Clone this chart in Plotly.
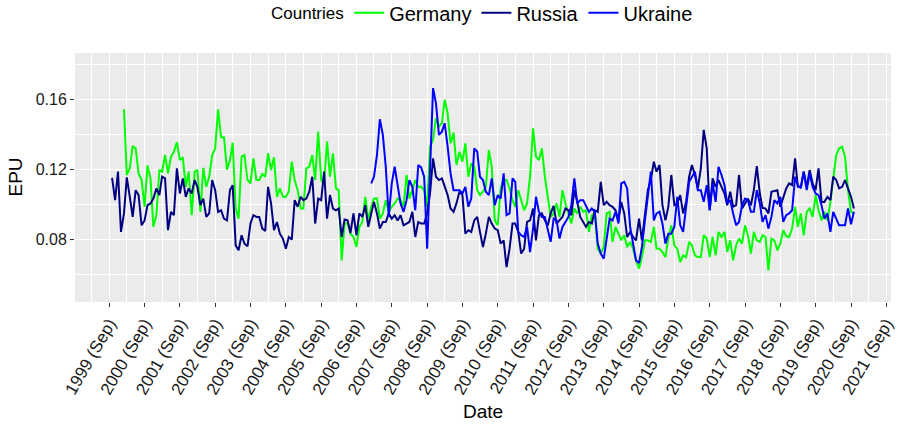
import pandas as pd
import plotly.graph_objects as go

# ---------------- data (monthly EPU) ----------------
russia_start = "1999-10-01"
russia = [
    0.1154,0.1026,0.1189,0.0844,0.095,0.1156,0.1045,0.093,0.1083,0.1055,
    0.0882,0.091,0.0997,0.1007,0.1035,0.1093,0.1055,0.116,0.115,0.0854,
    0.0959,0.094,0.1208,0.1064,0.115,0.1045,0.1093,0.1064,0.1141,0.1102,
    0.0997,0.1035,0.093,0.095,0.1141,0.1083,0.0959,0.0968,0.092,0.091,
    0.1083,0.1112,0.0767,0.0739,0.0825,0.0777,0.0762,0.0892,0.094,0.093,
    0.093,0.0863,0.085,0.1102,0.1007,0.0854,0.0901,0.0834,0.0806,0.0748,
    0.0815,0.08,0.1026,0.0988,0.1045,0.1026,0.1035,0.1074,0.116,0.0892,
    0.1035,0.1026,0.1189,0.092,0.1055,0.0978,0.0968,0.0978,0.0815,0.0915,
    0.091,0.0838,0.095,0.0825,0.095,0.093,0.0997,0.0873,0.095,0.1016,
    0.095,0.0863,0.0901,0.0901,0.095,0.092,0.094,0.091,0.094,0.0882,
    0.0892,
    0.0901,0.0959,0.0815,0.0901,0.0892,0.0892,0.095,0.1064,0.1265,0.116,
    0.1141,0.115,0.1102,0.1055,0.0978,0.0959,0.1007,0.1074,0.1055,0.0834,
    0.0854,0.0844,0.091,0.093,0.0844,0.0758,0.0834,0.093,0.0892,0.0863,
    0.0854,0.0777,0.0796,0.0643,0.0748,0.0892,0.0892,0.0844,0.072,0.0748,
    0.0901,0.091,0.0978,0.0796,0.094,0.095,0.091,0.0882,0.095,0.0993,
    0.0892,
    0.091,0.093,0.0978,0.0968,0.094,0.1083,0.1016,0.093,0.0901,0.0873,
    0.0901,0.0892,0.0968,0.0959,0.1131,0.0997,0.1016,0.0997,0.0988,0.0968,
    0.091,0.1016,0.095,0.0815,0.0844,0.0815,0.0796,0.092,0.0796,0.0959,
    0.1083,0.1141,0.1246,0.1189,0.1227,0.0997,0.091,0.0988,0.117,0.0997,
    0.1007,0.1055,0.095,0.1016,0.116,0.1227,0.117,0.1093,0.1208,0.1428,
    0.1322,
    0.0968,0.115,0.1102,0.1141,0.1102,0.1064,0.0997,0.1074,0.0988,0.0997,
    0.117,0.0978,0.1007,0.1035,0.0997,0.1083,0.1221,0.1064,0.0982,0.0978,
    0.095,0.1074,0.1078,0.1083,0.0988,0.1045,0.1093,0.1122,0.1112,0.1265,
    0.1102,0.1102,0.1189,0.1102,0.1198,0.1122,0.1083,0.1208,0.1016,0.1016,
    0.1045,0.1026,0.116,0.1141,0.1093,0.1102,0.1141,0.1093,0.1045,0.0978,
]

germany_start = "2000-02-01"
germany = [
    0.1546,0.117,0.1208,0.1336,0.1322,0.1179,0.1141,0.0988,0.1225,0.115,
    0.0873,0.094,0.12,0.1189,0.1284,0.1179,0.1275,0.1303,0.1357,0.1255,
    0.1271,0.1102,0.1189,0.094,0.1189,0.12,0.0959,0.1211,0.1102,0.116,
    0.1284,0.1322,0.1546,0.1386,0.1386,0.12,0.1255,0.1355,0.0978,0.092,
    0.1275,0.1284,0.1141,0.1122,0.1265,0.1141,
    0.1141,0.1175,0.116,0.1294,0.1198,0.1271,0.1045,0.1093,0.1045,0.1045,
    0.1074,0.1246,0.1141,0.1083,0.0978,0.0978,0.1208,0.1217,0.1284,0.1141,
    0.1418,0.1141,0.1122,0.1361,0.116,0.1294,0.1093,0.1083,0.0681,0.0892,
    0.0892,0.0834,0.0815,0.0758,0.0873,0.0901,0.1045,0.091,0.0988,0.1035,
    0.1035,0.092,0.095,0.1026,0.0959,0.0988,0.1007,0.1035,0.1026,0.0988,
    0.117,
    0.1035,0.1083,0.1141,0.1102,0.1102,0.1083,0.0988,0.1332,0.137,0.1495,
    0.1447,0.1466,0.16,0.1523,0.1351,0.1412,0.1227,0.1303,0.1246,0.1351,
    0.116,0.1236,0.1217,0.1083,0.1055,0.1074,0.1102,0.1313,0.1217,0.091,
    0.0882,0.1093,0.1141,0.1141,0.1093,0.1026,0.0988,0.1083,0.1026,0.0968,
    0.1007,0.116,0.1437,0.1275,0.1255,0.1322,0.116,0.1026,0.093,0.095,
    0.1007,
    0.093,0.1083,0.1007,0.094,0.0892,0.0978,0.095,0.0988,0.0959,0.0968,
    0.0844,0.094,0.095,0.0748,0.072,0.0758,0.095,0.0959,0.0787,0.0873,
    0.0834,0.0796,0.0825,0.0758,0.0787,0.0748,0.0681,0.0634,0.07,0.0796,
    0.0796,0.0787,0.0873,0.0748,0.0748,0.0729,0.07,0.0806,0.0882,0.0767,
    0.0748,0.0672,0.071,0.07,0.0787,0.0767,0.071,0.07,0.07,0.0825,
    0.0806,
    0.07,0.0815,0.071,0.0844,0.0815,0.0844,0.0729,0.0796,0.0681,0.0767,
    0.0806,0.0777,0.0882,0.0825,0.072,0.0844,0.0796,0.0787,0.0825,0.0815,
    0.0624,0.0806,0.0796,0.0739,0.0777,0.0854,0.0819,0.0815,0.0863,0.0988,
    0.0873,0.095,0.0825,0.0959,0.0978,0.093,0.1055,0.0968,0.091,0.0959,
    0.091,0.1016,0.1141,0.1284,0.1322,0.1332,0.1275,0.1083,0.0959,0.095,
]

ukraine_start = "2007-02-01"
ukraine = [
    0.1122,0.116,0.1284,0.1489,0.1399,0.1217,0.093,0.1122,0.1217,0.1102,
    0.1007,0.0959,0.1026,
    0.1141,0.1102,0.0968,0.1227,0.1213,0.116,0.0748,0.116,0.1667,0.1581,
    0.1399,0.1418,0.1466,0.1332,0.1179,0.1083,0.1083,0.1083,0.1064,0.1102,
    0.0988,0.1035,0.1322,0.1303,0.116,0.1141,0.1074,0.1055,0.115,0.0997,
    0.1055,0.1035,0.1179,0.094,0.095,0.115,0.1131,0.0844,0.0825,0.0815,
    0.0873,0.0729,0.0863,0.1045,0.0959,0.093,0.093,0.0863,0.0787,0.092,
    0.091,
    0.0806,0.0873,0.0901,0.093,0.0997,0.115,0.1007,0.1026,0.1026,0.0997,
    0.0959,0.0978,0.0959,0.0777,0.072,0.0691,0.0815,0.092,0.091,0.0959,
    0.0892,0.1122,0.1131,0.1093,0.0873,0.0777,0.0681,0.0666,0.0758,0.091,
    0.1055,0.1189,0.091,0.095,0.0959,0.0892,0.0777,0.0834,0.0834,0.0873,
    0.1045,0.0882,0.0844,0.1007,0.1131,0.116,0.1189,0.1083,0.1083,0.1016,
    0.1112,
    0.0968,0.1122,0.1016,0.1217,0.117,0.1112,0.1007,0.1026,0.095,0.0882,
    0.0901,0.0997,0.1035,0.1026,0.0959,0.0959,0.1083,0.1007,0.0901,0.094,
    0.0863,0.093,0.1026,0.1007,0.1045,0.0901,0.094,0.095,0.0968,0.116,
    0.1112,0.1093,0.1189,0.1083,0.1179,0.1102,0.1064,0.1055,0.0997,0.092,
    0.095,0.0844,0.0959,0.092,0.0882,0.0882,0.0882,0.0978,0.0888,0.0959,
]

tick_years = list(range(1999, 2022))
tick_labels = [f"{y} (Sep)" for y in tick_years]

series_names = ["Germany", "Russia", "Ukraine"]
series_colors = ["#00FF00", "#000080", "#0000FF"]
series_values = [germany, russia, ukraine]
series_starts = [germany_start, russia_start, ukraine_start]

# ---------------- figure ----------------
fig = go.Figure()
all_dates = []
for name, col, vals, start in zip(series_names, series_colors, series_values, series_starts):
    d = pd.date_range(start, periods=len(vals), freq="MS")
    all_dates.extend(list(d))
    fig.add_trace(go.Scatter(x=d, y=vals, mode="lines", name=name,
                             line=dict(color=col, width=2.0)))

dmin, dmax = min(all_dates), max(all_dates)
span = dmax - dmin
xr = [dmin - span * 0.05, dmax + span * 0.05]

tickvals = [pd.Timestamp(f"{y}-09-01") for y in tick_years]
minorvals = [pd.Timestamp(f"{y}-03-01") for y in range(1999, 2023)]

FONT = "Liberation Sans, Arial, Helvetica, sans-serif"

fig.update_layout(
    width=899, height=424,
    margin=dict(l=75, r=8, t=53, b=122, autoexpand=False),
    paper_bgcolor="white",
    plot_bgcolor="#EBEBEB",
    font=dict(family=FONT, color="#1a1a1a"),
    showlegend=True,
    legend=dict(
        orientation="h", x=0.336, xanchor="left",
        yref="container", y=0.970, yanchor="middle",
        font=dict(size=20, color="black"),
        itemwidth=30, bgcolor="rgba(0,0,0,0)", tracegroupgap=0,
    ),
    xaxis=dict(
        type="date", range=xr, automargin=False,
        tickmode="array", tickvals=tickvals, ticktext=tick_labels,
        tickangle=-60, tickfont=dict(size=17, color="#1a1a1a"),
        ticks="outside", ticklen=4, tickwidth=1, tickcolor="#333333",
        showgrid=True, gridcolor="white", gridwidth=1.2,
        minor=dict(tickmode="array", tickvals=minorvals, showgrid=True,
                   gridcolor="white", gridwidth=0.6, ticks=""),
        zeroline=False, showline=False,
    ),
    yaxis=dict(
        range=[0.0443, 0.1868], automargin=False,
        tickmode="array", tickvals=[0.08, 0.12, 0.16],
        ticktext=["0.08", "0.12", "0.16"],
        tickfont=dict(size=16, color="#1a1a1a"),
        ticks="outside", ticklen=4, tickwidth=1, tickcolor="#333333",
        showgrid=True, gridcolor="white", gridwidth=1.2,
        minor=dict(tickmode="array", tickvals=[0.06, 0.10, 0.14, 0.18],
                   showgrid=True, gridcolor="white", gridwidth=0.6, ticks=""),
        zeroline=False, showline=False,
    ),
    annotations=[
        dict(text="Countries", x=(346 - 75) / 816, y=1 + (53 - 14) / 248.7,
             xref="paper", yref="paper", xanchor="right", yanchor="middle",
             showarrow=False, font=dict(size=17, color="black")),
        dict(text="Date", x=0.5, y=-0.44, xref="paper", yref="paper",
             xanchor="center", yanchor="middle", showarrow=False,
             font=dict(size=19, color="black")),
        dict(text="EPU", x=-0.0735, y=0.5, xref="paper", yref="paper",
             xanchor="center", yanchor="middle", textangle=-90, showarrow=False,
             font=dict(size=19, color="black")),
    ],
)

fig.write_html(
    "out.html",
    config={"displayModeBar": False},
    post_script="document.body.style.margin='0';document.body.style.overflow='hidden';",
)
